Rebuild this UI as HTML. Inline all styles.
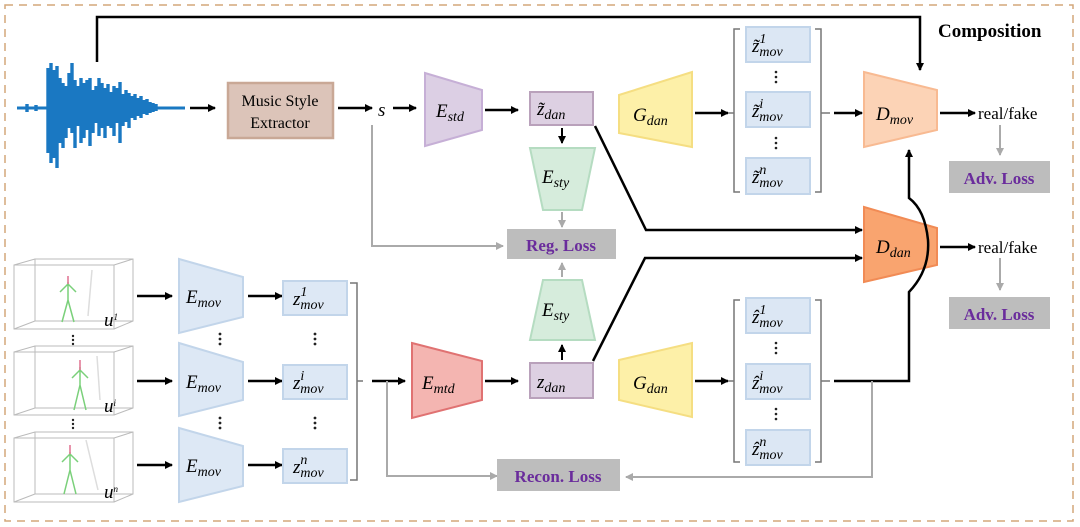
<!DOCTYPE html>
<html><head><meta charset="utf-8"><style>
html,body{margin:0;padding:0;background:#fff;}
svg{display:block;}
.t{font-family:"Liberation Serif",serif;}
.m{font-family:"Liberation Serif",serif;font-style:italic;font-size:19px;}
.sub{font-size:14px;}
.loss{font-family:"Liberation Serif",serif;font-weight:bold;font-size:17px;fill:#6a2c9c;}
</style></head><body>
<svg width="1080" height="527" viewBox="0 0 1080 527" xmlns="http://www.w3.org/2000/svg">
<defs>
<marker id="a" markerWidth="8" markerHeight="8" refX="7" refY="4" orient="auto" markerUnits="userSpaceOnUse"><path d="M0,0 L8,4 L0,8 z" fill="#000"/></marker>
<marker id="g" markerWidth="8" markerHeight="8" refX="7" refY="4" orient="auto" markerUnits="userSpaceOnUse"><path d="M0,0 L8,4 L0,8 z" fill="#aaa"/></marker>
</defs>
<rect x="5" y="5" width="1068" height="516" fill="none" stroke="#d4a77a" stroke-width="1.5" stroke-dasharray="8,6"/>
<text x="938" y="37" class="t" font-weight="bold" font-size="19">Composition</text>

<!-- waveform -->
<g stroke="#1a78c2" stroke-width="3.4">
<path d="M17 108 H185" stroke-width="3"/>
<path d="M48 68V153 M51 63V163 M54 70V158 M57 66V168 M60 78V143 M63 83V148 M66 86V138 M69 73V128 M72 63V133 M75 80V148 M78 86V126 M81 78V143 M84 83V138 M87 80V130 M90 78V146 M93 90V133 M96 86V123 M99 78V136 M102 83V128 M105 88V138 M108 84V126 M111 92V128 M114 86V136 M117 88V123 M120 82V143 M123 94V126 M126 90V122 M129 93V128 M132 96V118 M135 94V120 M138 98V116 M141 96V118 M144 100V114 M147 99V115 M150 102V113 M153 103V112 M156 104V111 M27 104V112 M36 105V111"/>
</g>
<path d="M97 62 V17 H920 V70" fill="none" stroke="#000" stroke-width="2.5" marker-end="url(#a)"/>
<line x1="190" y1="108" x2="215" y2="108" stroke="#000" stroke-width="2.5" marker-end="url(#a)"/>
<rect x="228" y="83" width="105" height="55" fill="#dcc4b9" stroke="#c9a896" stroke-width="2.5"/>
<text x="280" y="106" class="t" font-size="16" text-anchor="middle">Music Style</text>
<text x="280" y="128" class="t" font-size="16" text-anchor="middle">Extractor</text>
<line x1="338" y1="108" x2="372" y2="108" stroke="#000" stroke-width="2.5" marker-end="url(#a)"/>
<text x="378" y="116" class="m">s</text>
<line x1="393" y1="108" x2="416" y2="108" stroke="#000" stroke-width="2.5" marker-end="url(#a)"/>
<path d="M372 125 V246 H503" fill="none" stroke="#aaa" stroke-width="2" marker-end="url(#g)"/>
<!-- E_std -->
<path d="M425 73 L482 90 L482 130 L425 146 Z" fill="#dccfe4" stroke="#c6afd6" stroke-width="2"/>
<text x="436" y="117" class="m">E<tspan class="sub" dy="4">std</tspan></text>
<line x1="485" y1="110" x2="518" y2="110" stroke="#000" stroke-width="2.5" marker-end="url(#a)"/>
<rect x="530" y="92" width="63" height="33" fill="#ddd0e2" stroke="#b9a1bb" stroke-width="2"/>
<text x="537" y="115" class="m">z̃<tspan class="sub" dy="4">dan</tspan></text>
<line x1="562" y1="128" x2="562" y2="143" stroke="#000" stroke-width="2" marker-end="url(#a)"/>
<path d="M530 148 L595 148 L582 210 L543 210 Z" fill="#d6ecdc" stroke="#b5dcc1" stroke-width="2"/>
<text x="542" y="183" class="m">E<tspan class="sub" dy="4">sty</tspan></text>
<line x1="562" y1="212" x2="562" y2="227" stroke="#aaa" stroke-width="2" marker-end="url(#g)"/>
<rect x="507" y="229" width="109" height="30" fill="#bdbdbd"/>
<text x="561" y="251" class="loss" text-anchor="middle">Reg. Loss</text>
<!-- top G_dan -->
<path d="M619 95 L692 72 L692 147 L619 133 Z" fill="#fdf0a8" stroke="#f5de82" stroke-width="2"/>
<text x="633" y="121" class="m">G<tspan class="sub" dy="4">dan</tspan></text>
<line x1="695" y1="113" x2="728" y2="113" stroke="#000" stroke-width="2.5" marker-end="url(#a)"/>
<path d="M740 29 H734 V192 H740 M815 29 H821 V192 H815" fill="none" stroke="#777" stroke-width="1.5"/>
<line x1="728" y1="113" x2="734" y2="113" stroke="#777" stroke-width="1.5"/>
<g fill="#dce7f4" stroke="#c2d5ea" stroke-width="2">
<rect x="746" y="27" width="64" height="35"/><rect x="746" y="92" width="64" height="35"/><rect x="746" y="158" width="64" height="36"/>
</g>
<text x="752" y="52" class="m">z̃<tspan class="sub" dy="-9">1</tspan><tspan class="sub" dx="-7" dy="13">mov</tspan></text>
<text x="752" y="117" class="m">z̃<tspan class="sub" dy="-9">i</tspan><tspan class="sub" dx="-4" dy="13">mov</tspan></text>
<text x="752" y="183" class="m">z̃<tspan class="sub" dy="-9">n</tspan><tspan class="sub" dx="-7" dy="13">mov</tspan></text>
<g fill="#222"><circle cx="776" cy="72" r="1.3"/><circle cx="776" cy="77" r="1.3"/><circle cx="776" cy="82" r="1.3"/><circle cx="776" cy="138" r="1.3"/><circle cx="776" cy="143" r="1.3"/><circle cx="776" cy="148" r="1.3"/></g>
<line x1="821" y1="113" x2="830" y2="113" stroke="#777" stroke-width="1.5"/>
<line x1="834" y1="113" x2="862" y2="113" stroke="#000" stroke-width="2.5" marker-end="url(#a)"/>
<!-- D_mov -->
<path d="M864 72 L937 90 L937 130 L864 147 Z" fill="#fcd3b6" stroke="#f8ba92" stroke-width="2"/>
<text x="876" y="120" class="m">D<tspan class="sub" dy="4">mov</tspan></text>
<line x1="940" y1="113" x2="975" y2="113" stroke="#000" stroke-width="2.5" marker-end="url(#a)"/>
<text x="978" y="119" class="t" font-size="17">real/fake</text>
<line x1="1000" y1="125" x2="1000" y2="155" stroke="#aaa" stroke-width="2" marker-end="url(#g)"/>
<rect x="949" y="161" width="101" height="32" fill="#bdbdbd"/>
<text x="999" y="184" class="loss" text-anchor="middle">Adv. Loss</text>
<!-- D_dan -->
<path d="M864 207 L937 228 L937 265 L864 282 Z" fill="#f9a46f" stroke="#f18b55" stroke-width="2"/>
<text x="876" y="253" class="m">D<tspan class="sub" dy="4">dan</tspan></text>
<line x1="940" y1="247" x2="975" y2="247" stroke="#000" stroke-width="2.5" marker-end="url(#a)"/>
<text x="978" y="253" class="t" font-size="17">real/fake</text>
<line x1="1000" y1="258" x2="1000" y2="290" stroke="#aaa" stroke-width="2" marker-end="url(#g)"/>
<rect x="949" y="297" width="101" height="32" fill="#bdbdbd"/>
<text x="999" y="320" class="loss" text-anchor="middle">Adv. Loss</text>
<!-- diag lines -->
<path d="M595 126 L646 230 H862" fill="none" stroke="#000" stroke-width="2.5" marker-end="url(#a)"/>
<path d="M593 361 L645 258 H862" fill="none" stroke="#000" stroke-width="2.5" marker-end="url(#a)"/>
<path d="M834 381 H909 V292 Q930 270 928 240 Q925 210 909 198 V150" fill="none" stroke="#000" stroke-width="2.5" marker-end="url(#a)"/>
<!-- bottom row skeletons -->
<g fill="none" stroke="#bbb" stroke-width="1">
<rect x="14" y="265" width="100" height="64"/><rect x="35" y="259" width="98" height="62"/><path d="M14 265 L35 259 M114 265 L133 259 M14 329 L35 321 M114 329 L133 321"/>
<rect x="14" y="352" width="100" height="63"/><rect x="35" y="346" width="98" height="62"/><path d="M14 352 L35 346 M114 352 L133 346 M14 415 L35 408 M114 415 L133 408"/>
<rect x="14" y="438" width="100" height="64"/><rect x="35" y="432" width="98" height="62"/><path d="M14 438 L35 432 M114 438 L133 432 M14 502 L35 494 M114 502 L133 494"/>
</g>
<g stroke-width="1.5" fill="none">
<path d="M68 282 V300 M60 292 L68 284 L76 292 M68 300 L62 322 M68 300 L74 322" stroke="#7ad07a"/><path d="M68 276 V284" stroke="#e07090"/><path d="M92 270 L88 316" stroke="#ddd"/>
<path d="M80 367 V385 M72 378 L80 370 L88 378 M80 385 L74 410 M80 385 L86 410" stroke="#7ad07a"/><path d="M80 360 V370" stroke="#e07090"/><path d="M97 356 L100 400" stroke="#ddd"/>
<path d="M70 452 V470 M62 462 L70 454 L78 462 M70 470 L64 494 M70 470 L76 494" stroke="#7ad07a"/><path d="M70 445 V454" stroke="#e07090"/><path d="M86 440 L98 490" stroke="#ddd"/>
</g>
<text x="104" y="326" class="m" font-size="12">u<tspan font-size="9" dy="-6">1</tspan></text>
<text x="104" y="412" class="m" font-size="12">u<tspan font-size="9" dy="-6">i</tspan></text>
<text x="104" y="498" class="m" font-size="12">u<tspan font-size="9" dy="-6">n</tspan></text>
<g fill="#222"><circle cx="73" cy="336" r="1.2"/><circle cx="73" cy="340" r="1.2"/><circle cx="73" cy="344" r="1.2"/><circle cx="73" cy="420" r="1.2"/><circle cx="73" cy="424" r="1.2"/><circle cx="73" cy="428" r="1.2"/></g>
<g stroke="#000" stroke-width="2.5" marker-end="url(#a)">
<line x1="137" y1="296" x2="172" y2="296"/><line x1="137" y1="381" x2="172" y2="381"/><line x1="137" y1="465" x2="172" y2="465"/>
<line x1="248" y1="296" x2="282" y2="296"/><line x1="248" y1="381" x2="282" y2="381"/><line x1="248" y1="465" x2="282" y2="465"/>
</g>
<g fill="#dde8f5" stroke="#c2d5ea" stroke-width="2">
<path d="M179 259 L243 277 L243 317 L179 333 Z"/><path d="M179 343 L243 362 L243 400 L179 416 Z"/><path d="M179 428 L243 446 L243 486 L179 502 Z"/>
<rect x="283" y="281" width="64" height="34"/><rect x="283" y="365" width="64" height="34"/><rect x="283" y="449" width="64" height="34"/>
</g>
<text x="186" y="303" class="m">E<tspan class="sub" dy="4">mov</tspan></text>
<text x="186" y="388" class="m">E<tspan class="sub" dy="4">mov</tspan></text>
<text x="186" y="472" class="m">E<tspan class="sub" dy="4">mov</tspan></text>
<text x="293" y="305" class="m">z<tspan class="sub" dy="-9">1</tspan><tspan class="sub" dx="-7" dy="13">mov</tspan></text>
<text x="293" y="389" class="m">z<tspan class="sub" dy="-9">i</tspan><tspan class="sub" dx="-4" dy="13">mov</tspan></text>
<text x="293" y="473" class="m">z<tspan class="sub" dy="-9">n</tspan><tspan class="sub" dx="-7" dy="13">mov</tspan></text>
<g fill="#222"><circle cx="220" cy="334" r="1.4"/><circle cx="220" cy="339" r="1.4"/><circle cx="220" cy="344" r="1.4"/><circle cx="220" cy="418" r="1.4"/><circle cx="220" cy="423" r="1.4"/><circle cx="220" cy="428" r="1.4"/>
<circle cx="315" cy="334" r="1.4"/><circle cx="315" cy="339" r="1.4"/><circle cx="315" cy="344" r="1.4"/><circle cx="315" cy="418" r="1.4"/><circle cx="315" cy="423" r="1.4"/><circle cx="315" cy="428" r="1.4"/></g>
<path d="M350 283 H357 V480 H350 M357 381 H363" fill="none" stroke="#777" stroke-width="1.5"/>
<line x1="372" y1="381" x2="405" y2="381" stroke="#000" stroke-width="2.5" marker-end="url(#a)"/>
<path d="M387 381 V476 H497" fill="none" stroke="#aaa" stroke-width="2" marker-end="url(#g)"/>
<path d="M412 343 L482 361 L482 400 L412 418 Z" fill="#f4b5b1" stroke="#e07272" stroke-width="2"/>
<text x="422" y="389" class="m">E<tspan class="sub" dy="4">mtd</tspan></text>
<line x1="485" y1="381" x2="518" y2="381" stroke="#000" stroke-width="2.5" marker-end="url(#a)"/>
<rect x="530" y="363" width="63" height="35" fill="#ddd0e2" stroke="#b9a1bb" stroke-width="2"/>
<text x="537" y="388" class="m">z<tspan class="sub" dy="4">dan</tspan></text>
<line x1="562" y1="360" x2="562" y2="345" stroke="#000" stroke-width="2" marker-end="url(#a)"/>
<path d="M543 280 L582 280 L595 340 L530 340 Z" fill="#d6ecdc" stroke="#b5dcc1" stroke-width="2"/>
<text x="542" y="316" class="m">E<tspan class="sub" dy="4">sty</tspan></text>
<line x1="562" y1="277" x2="562" y2="263" stroke="#aaa" stroke-width="2" marker-end="url(#g)"/>
<path d="M619 360 L692 343 L692 417 L619 400 Z" fill="#fdf0a8" stroke="#f5de82" stroke-width="2"/>
<text x="633" y="389" class="m">G<tspan class="sub" dy="4">dan</tspan></text>
<line x1="695" y1="381" x2="728" y2="381" stroke="#000" stroke-width="2.5" marker-end="url(#a)"/>
<path d="M740 300 H734 V462 H740 M815 300 H821 V462 H815 M728 381 H734 M821 381 H830" fill="none" stroke="#777" stroke-width="1.5"/>
<g fill="#dce7f4" stroke="#c2d5ea" stroke-width="2">
<rect x="746" y="298" width="64" height="35"/><rect x="746" y="364" width="64" height="35"/><rect x="746" y="430" width="64" height="35"/>
</g>
<text x="752" y="323" class="m">ẑ<tspan class="sub" dy="-9">1</tspan><tspan class="sub" dx="-7" dy="13">mov</tspan></text>
<text x="752" y="389" class="m">ẑ<tspan class="sub" dy="-9">i</tspan><tspan class="sub" dx="-4" dy="13">mov</tspan></text>
<text x="752" y="455" class="m">ẑ<tspan class="sub" dy="-9">n</tspan><tspan class="sub" dx="-7" dy="13">mov</tspan></text>
<g fill="#222"><circle cx="776" cy="343" r="1.3"/><circle cx="776" cy="348" r="1.3"/><circle cx="776" cy="353" r="1.3"/><circle cx="776" cy="409" r="1.3"/><circle cx="776" cy="414" r="1.3"/><circle cx="776" cy="419" r="1.3"/></g>
<path d="M872 381 V477 H626" fill="none" stroke="#aaa" stroke-width="2" marker-end="url(#g)"/>
<rect x="497" y="459" width="123" height="32" fill="#bdbdbd"/>
<text x="558" y="482" class="loss" text-anchor="middle">Recon. Loss</text>
</svg>
</body></html>
